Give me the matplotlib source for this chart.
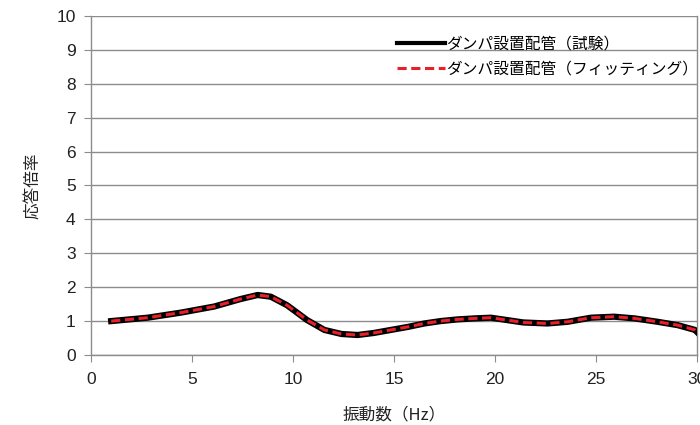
import matplotlib
matplotlib.use("Agg")
import matplotlib.pyplot as plt

plt.rcParams['font.family'] = ['Liberation Sans', 'Noto Sans CJK JP', 'DejaVu Sans']

freq = [1.0, 2.8, 4.45, 6.1, 7.4, 8.25, 8.9, 9.7, 10.7, 11.55, 12.4, 13.2, 14.0,
        14.85, 15.7, 16.5, 17.3, 18.15, 19.0, 19.8, 20.6, 21.4, 22.6, 23.6,
        24.75, 25.9, 26.9, 28.05, 29.05, 29.9, 30.0]
test_vals = [1.0, 1.1, 1.25, 1.43, 1.65, 1.77, 1.72, 1.47, 1.03, 0.74, 0.62, 0.59,
             0.65, 0.74, 0.83, 0.93, 1.0, 1.05, 1.08, 1.1, 1.03, 0.96, 0.93, 0.98,
             1.1, 1.13, 1.08, 0.98, 0.88, 0.74, 0.68]
fit_vals = test_vals

series_labels = ['ダンパ設置配管（試験）', 'ダンパ設置配管（フィッティング）']
xlabel = '振動数（Hz）'
ylabel = '応答倍率'
xticks = [0, 5, 10, 15, 20, 25, 30]
yticks = list(range(0, 11))

fig = plt.figure(figsize=(7, 4.25), dpi=100)
ax = fig.add_axes([0.13, 0.1647, 0.8657, 0.7977])

ax.plot(freq, test_vals, color='black', lw=4.5, label=series_labels[0],
        solid_joinstyle='round', zorder=3)
ax.plot(freq, fit_vals, color='#e8202a', lw=2.2, ls=(0, (3, 1.5)),
        label=series_labels[1], zorder=4)

ax.set_xlim(0, 30)
ax.set_ylim(0, 10)
ax.set_xticks(xticks)
ax.set_yticks(yticks)
ax.grid(axis='y', color='#8c8c8c', lw=1.0)
ax.set_axisbelow(True)

ax.spines['top'].set_visible(False)
for s in ['left', 'bottom', 'right']:
    ax.spines[s].set_color('#8c8c8c')
    ax.spines[s].set_linewidth(1.0)
ax.tick_params(axis='both', direction='out', length=5, color='#8c8c8c',
               labelsize=12.5, labelcolor='#222222')
ax.tick_params(axis='x', pad=7)
ax.tick_params(axis='y', pad=6)

ax.set_xlabel(xlabel, fontsize=12, family=['Noto Sans CJK JP', 'DejaVu Sans'],
              labelpad=14, color='#222222')
ax.set_ylabel(ylabel, fontsize=12, family=['Noto Sans CJK JP', 'DejaVu Sans'],
              labelpad=11, color='#222222')

leg = ax.legend(loc='upper right', bbox_to_anchor=(1.025, 0.985), frameon=False,
                prop={'family': ['Noto Sans CJK JP', 'DejaVu Sans'], 'size': 11.3},
                handlelength=3.05, handletextpad=0.05, labelspacing=0.55)
for h in leg.get_lines():
    if h.get_color() == 'black':
        h.set_linewidth(3.0)

fig.savefig('out.png', dpi=100, facecolor='white')
